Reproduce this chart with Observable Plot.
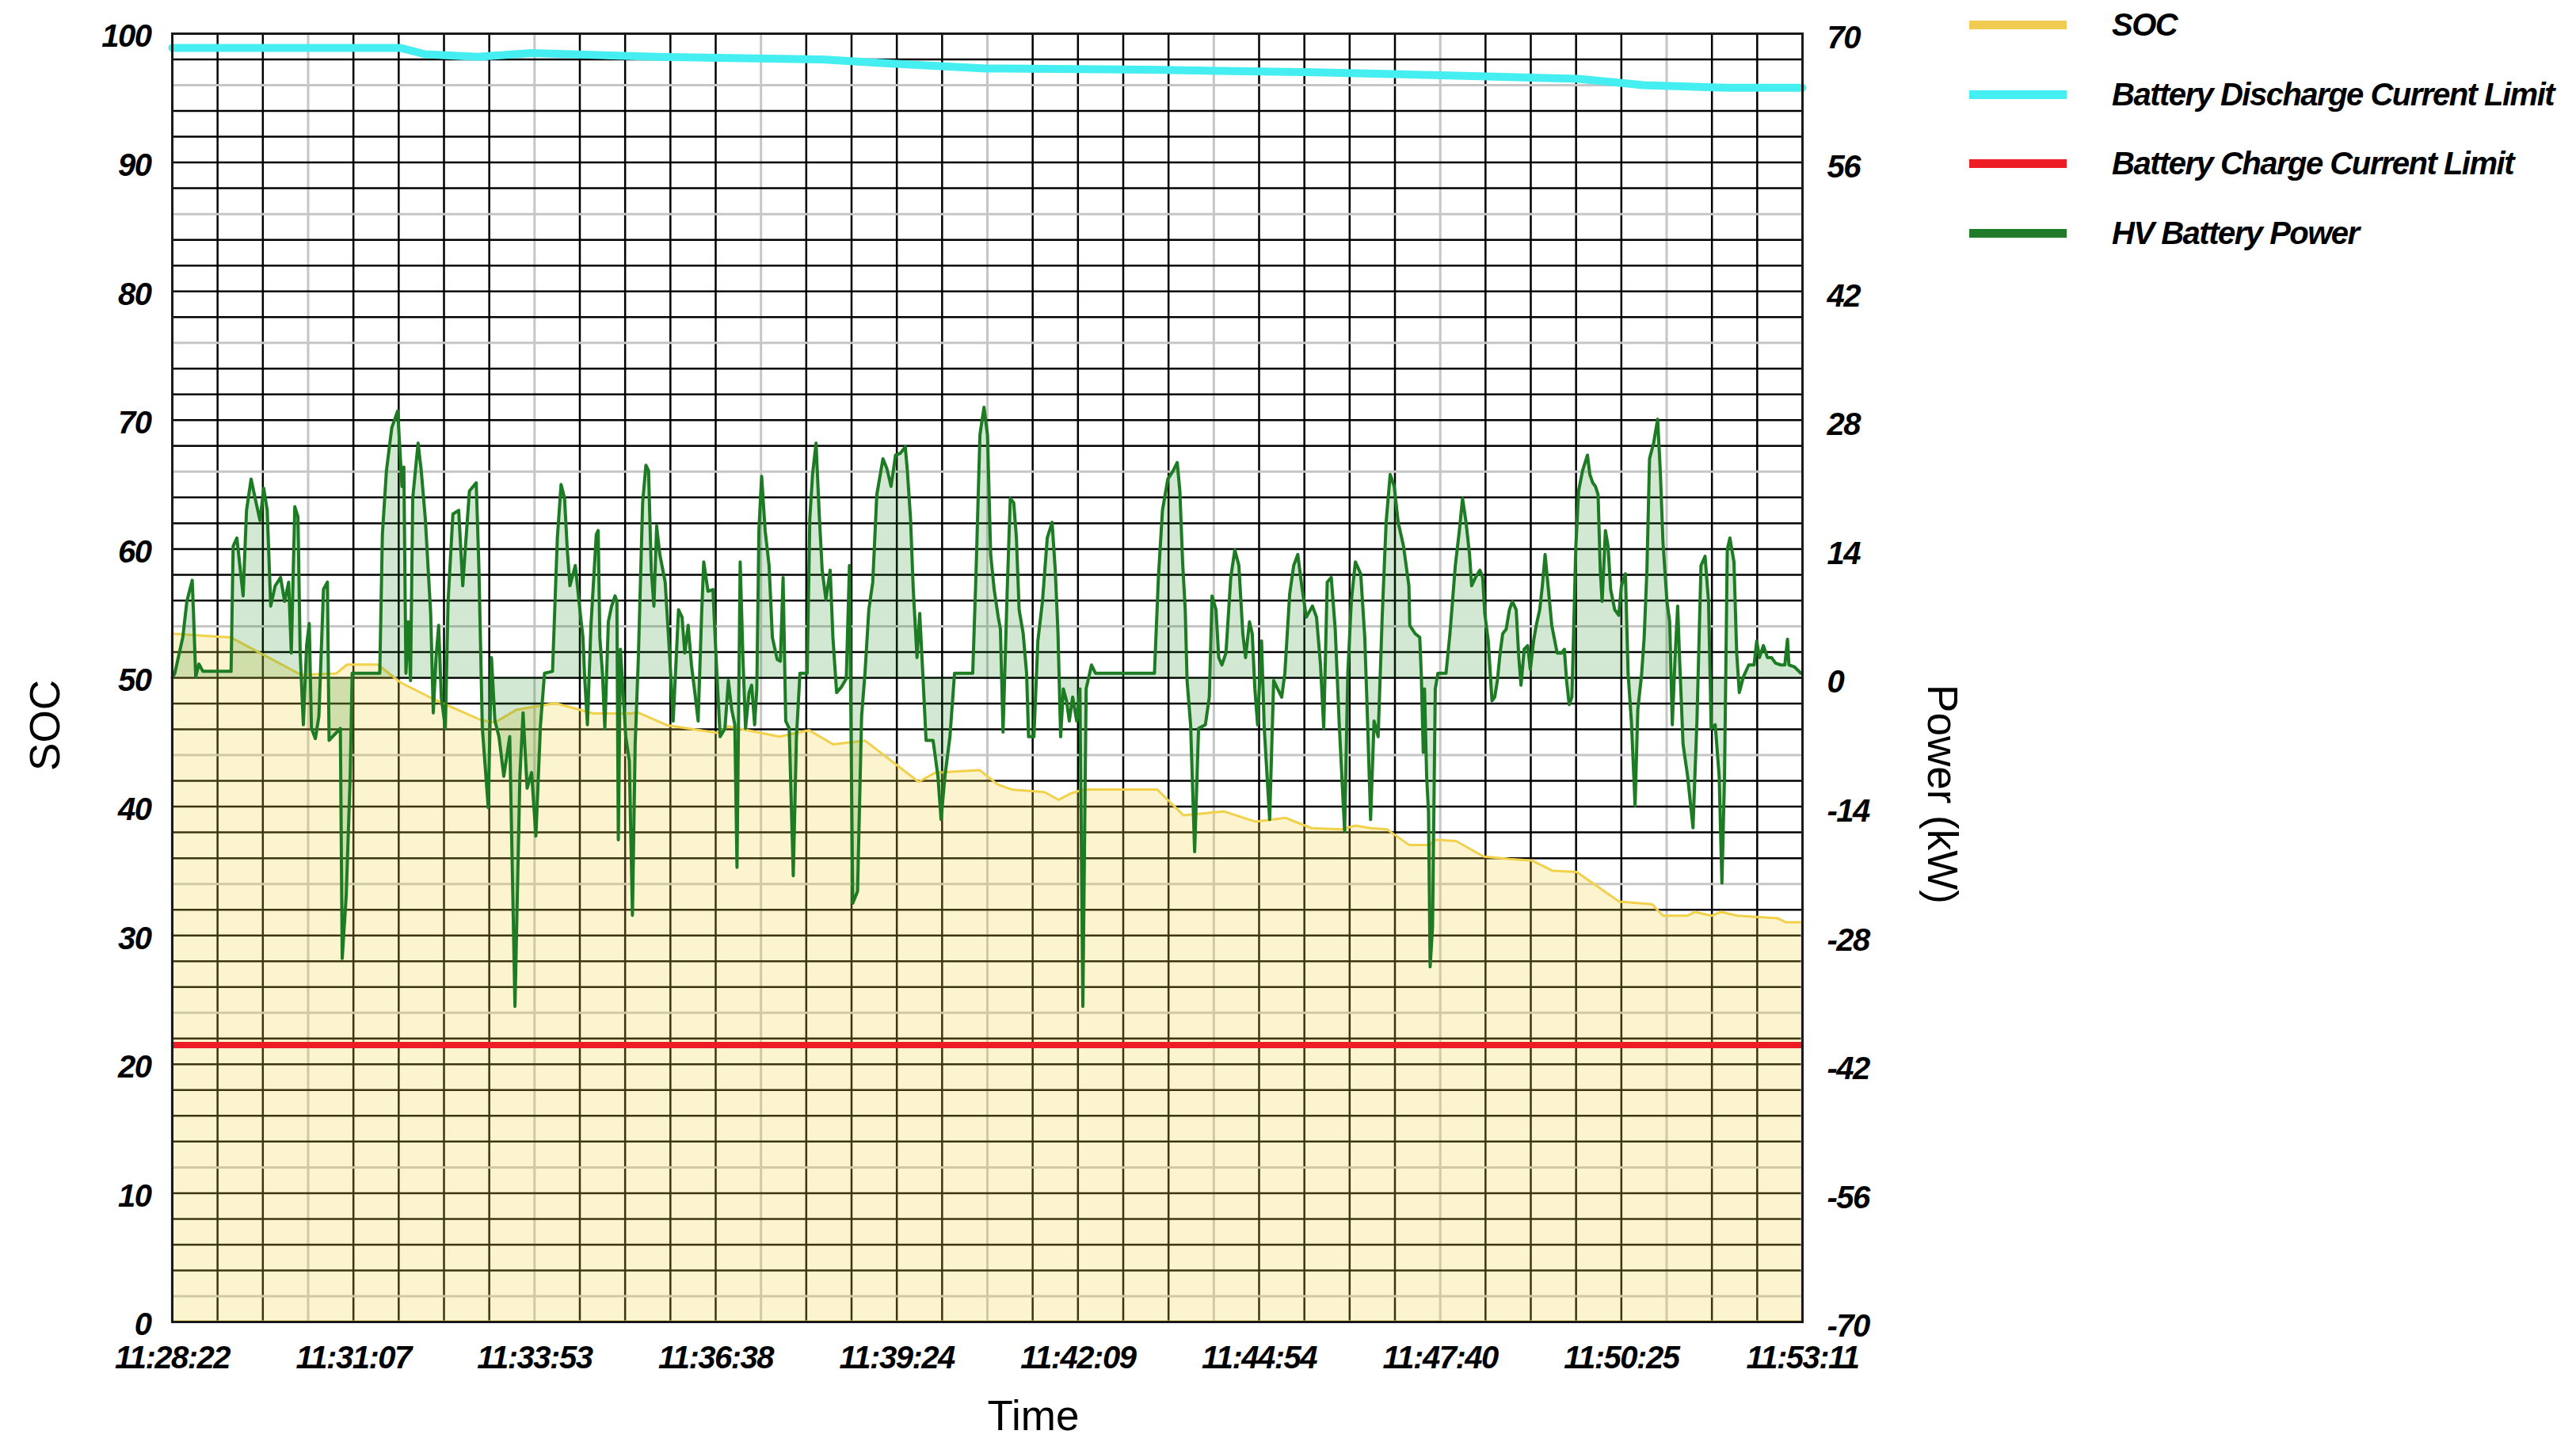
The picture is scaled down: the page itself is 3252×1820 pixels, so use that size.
<!DOCTYPE html>
<html>
<head>
<meta charset="utf-8">
<script src="https://cdn.jsdelivr.net/npm/d3@7"></script>
<script src="https://cdn.jsdelivr.net/npm/@observablehq/plot@0.6"></script>
<style>
  html, body { margin: 0; padding: 0; background: #fff; }
  #wrap { position: relative; width: 3252px; height: 1820px; overflow: hidden; }
  #wrap svg text { font-family: "Liberation Sans", Arial, sans-serif; }
  g[aria-label$="tick label"] text { letter-spacing: -1.5px; }
  .legend { position: absolute; left: 0; top: 0; font-family: "Liberation Sans", Arial, sans-serif;
            font-weight: bold; font-style: italic; font-size: 40px; letter-spacing: -1.5px; color: #000; }
  .legend .sw { position: absolute; left: 2486px; width: 123px; height: 11px; }
  .legend .lb { position: absolute; left: 2666px; white-space: nowrap; line-height: 40px; }
  .atitle { position: absolute; font-family: "Liberation Sans", Arial, sans-serif; font-size: 53px;
            color: #000; white-space: nowrap; line-height: 53px; transform-origin: center center; }
</style>
</head>
<body>
<div id="wrap"></div>
<script>
// ---------- data ----------
const timeLabels = ["11:28:22","11:31:07","11:33:53","11:36:38","11:39:24","11:42:09","11:44:54","11:47:40","11:50:25","11:53:11"];
const durationSec = 1489;                       // 11:28:22 -> 11:53:11
const socTicks = [0,10,20,30,40,50,60,70,80,90,100];
const powerTicks = [-70,-56,-42,-28,-14,0,14,28,42,56,70];
const axisTitles = {left: "SOC", right: "Power (kW)", bottom: "Time"};
const seriesNames = ["SOC","Battery Discharge Current Limit","Battery Charge Current Limit","HV Battery Power"];
const seriesColors = ["#f2cb52","#45eef0","#ee1c24","#1f7a2a"];

// SOC (%) : seconds since start
const socT   = [0,54,118,150,160,188,209,237,282,295,315,350,385,420,425,452,498,508,555,582,604,633,682,697,738,754,767,797,810,821,833,900,924,961,990,1017,1041,1068,1081,1095,1110,1130,1149,1154,1173,1198,1222,1242,1261,1283,1322,1352,1362,1384,1391,1406,1415,1430,1467,1474,1489];
const socPct = [53.4,53.1,50.2,50.3,51.0,51.0,49.6,48.4,46.7,46.5,47.5,48.0,47.2,47.2,47.3,46.3,45.7,46.2,45.4,45.9,44.8,45.1,41.9,42.6,42.8,41.7,41.3,41.1,40.5,41.0,41.3,41.3,39.3,39.6,38.8,39.1,38.3,38.2,38.5,38.3,38.2,37.0,37.0,37.4,37.3,36.1,35.9,35.8,35.0,34.9,32.6,32.4,31.5,31.5,31.8,31.5,31.8,31.5,31.3,31.0,31.0];

// Battery discharge current limit (left-axis units)
const dischargeT   = [0,208,231,279,328,443,593,654,743,894,1044,1194,1284,1344,1419,1489];
const dischargeVal = [98.9,98.9,98.4,98.2,98.5,98.2,98.0,97.7,97.3,97.2,97.0,96.7,96.5,96.0,95.8,95.8];

// Battery charge current limit (left-axis units)
const chargeLimit = [21.5];

// HV battery power (kW) : [seconds since start, kW]
const powerSamples = [
[0,0],[2.3,0.5],[9.6,4.4],[13.3,8.3],[18.2,10.6],[19.4,7.0],[21.4,0.1],[24.3,1.5],[28.0,0.7],[53.7,0.7],[55.6,14.3],[59.0,15.2],[64.7,8.9],[67.8,18.2],[72.0,21.6],[75.7,19.5],[80.1,17.1],[83.5,20.6],[86.7,18.2],[89.9,7.8],[94.0,10.0],[98.9,10.9],[102.6,8.3],[106.3,10.4],[108.7,2.7],[111.9,18.6],[114.8,17.5],[116.8,2.7],[119.7,-5.1],[122.7,3.5],[125.1,5.9],[127.1,-5.5],[130.7,-6.6],[133.9,-4.2],[138.1,9.6],[141.7,10.4],[143.2,-6.8],[150.3,-5.9],[153.5,-5.5],[155.2,-30.5],[158.9,-23.6],[162.5,-10.7],[164.3,0.5],[189.5,0.5],[191.9,15.6],[195.6,22.5],[200.5,27.2],[205.9,29.0],[209.8,20.8],[211.5,22.9],[213.4,0.5],[215.6,6.1],[217.6,-0.3],[219.6,19.5],[224.5,25.5],[227.4,22.5],[231.1,17.3],[236.0,7.0],[238.4,-3.8],[240.9,2.2],[243.3,5.7],[245.7,-2.1],[249.4,-5.5],[251.9,8.3],[256.3,17.8],[261.6,18.2],[265.3,10.0],[267.8,14.3],[271.4,20.3],[277.6,21.2],[280.0,12.2],[283.2,-5.5],[288.6,-14.1],[291.5,2.2],[294.7,-4.7],[298.4,-6.4],[302.8,-10.7],[308.2,-6.4],[313.0,-35.7],[317.5,-10.7],[320.4,-3.8],[324.1,-12.0],[328.2,-10.3],[332.1,-17.2],[336.3,-5.1],[340.0,0.5],[347.3,0.7],[351.7,15.2],[355.1,21.0],[358.3,19.5],[360.8,13.9],[363.2,10.0],[368.1,12.2],[373.0,6.6],
[375.1,4.4],[376.8,-0.3],[379.2,-5.1],[382.4,5.7],[387.3,15.6],[389.0,16.0],[390.5,4.4],[392.9,0.5],[395.1,-5.5],[398.3,6.1],[401.3,7.8],[404.4,8.9],[406.1,8.3],[407.4,-17.6],[409.3,3.1],[414.2,-6.4],[417.4,-9.0],[420.3,-25.8],[422.8,-7.2],[425.7,2.2],[429.6,19.0],[432.6,23.1],[435.0,22.5],[437.5,11.7],[439.9,7.8],[442.4,16.5],[445.3,13.4],[450.2,10.4],[454.6,1.8],[457.5,-4.7],[462.4,7.4],[465.6,6.6],[468.1,2.7],[471.2,5.7],[474.2,1.4],[477.8,-2.1],[480.3,-4.7],[483.5,7.0],[485.4,12.6],[489.3,9.4],[493.8,9.6],[497.4,0.5],[500.4,-6.4],[504.8,-5.5],[507.9,-0.3],[510.9,-3.4],[513.8,-5.1],[515.8,-20.6],[518.7,12.6],[521.2,2.2],[523.6,-5.5],[526.8,-1.6],[529.2,-0.8],[531.9,-5.1],[533.9,-1.2],[535.8,16.0],[538.3,21.9],[541.5,16.0],[545.1,12.2],[548.1,4.4],[552.5,2.0],[555.4,1.8],[557.9,10.9],[560.3,-4.7],[563.5,-5.5],[567.2,-21.5],[570.1,-6.4],[573.3,0.5],[579.9,0.5],[582.3,17.3],[584.8,22.1],[588.0,25.5],[590.9,17.8],[593.6,11.7],[597.0,8.5],[600.9,11.7],[603.4,4.4],[606.8,-1.6],[611.2,-1.0],[615.6,-0.1],[618.5,12.2],[621.5,-24.5],[625.9,-23.2],[629.6,-4.2],[632.7,0.5],[636.2,7.4],[639.8,10.4],[643.5,19.9],[649.1,23.8],[652.8,22.7],[656.5,20.8],[660.6,24.2],[665.0,24.4],[669.5,25.1],[671.4,22.5],[674.3,17.3],[676.8,9.6],[680.2,2.2],[682.7,7.0],[685.1,1.4],[688.5,-6.8],[694.9,-6.8],[699.3,-10.7],[702.2,-15.4],[705.7,-10.7],[710.3,-6.4],[714.5,0.5],[731.1,0.5],[734.0,10.9],[737.7,26.4],[741.4,29.4],[744.6,26.4],[747.5,13.4],[750.7,9.6],[754.4,6.6],
[756.4,5.3],[758.8,-5.9],[762.5,9.1],[765.4,19.5],[768.6,19.0],[771.0,15.2],[773.5,7.4],[777.2,4.8],[780.3,0.5],[782.1,-6.4],[787.0,-6.4],[790.6,4.0],[794.8,8.3],[799.2,15.2],[803.6,16.9],[806.5,11.7],[809.0,4.8],[811.4,-6.4],[813.9,-1.2],[816.8,-2.5],[819.3,-4.7],[822.4,-2.1],[826.1,-4.7],[829.0,-1.2],[831.7,-35.7],[834.7,-1.2],[839.6,1.4],[843.2,0.5],[897.1,0.5],[900.7,10.9],[904.4,18.2],[909.3,21.6],[914.2,22.5],[917.9,23.4],[920.3,20.3],[922.8,12.6],[925.2,7.4],[926.9,-0.3],[930.1,-5.1],[933.8,-18.9],[937.4,-5.5],[943.6,-5.1],[947.2,-2.1],[949.7,8.9],[953.3,7.4],[955.8,2.2],[958.7,1.4],[962.4,2.7],[966.8,10.9],[970.5,13.9],[974.2,12.2],[977.8,4.8],[980.3,2.2],[983.9,6.1],[986.4,4.8],[988.8,-1.2],[991.3,-5.1],[994.9,4.0],[997.4,-5.5],[1002.3,-15.4],[1006.0,-0.3],[1009.6,-1.2],[1013.3,-2.1],[1016.2,0.5],[1020.6,9.1],[1024.3,12.2],[1028.0,13.4],[1031.6,10.0],[1035.8,6.6],[1041.4,7.8],[1045.1,6.6],[1048.8,1.4],[1051.7,-5.5],[1054.9,10.4],[1058.6,10.9],[1062.2,5.3],[1065.9,-5.1],[1070.8,-16.7],[1073.7,0.5],[1076.9,8.3],[1080.6,12.6],[1085.5,11.3],[1089.2,4.4],[1091.6,-4.2],[1094.5,-15.4],[1097.7,-4.7],[1101.4,-6.4],[1105.1,6.6],[1108.7,16.9],[1112.4,22.1],[1116.1,20.8],[1119.7,16.9],[1124.6,14.3],[1129.5,10.0],
[1130.3,5.7],[1135.2,4.8],[1139.4,4.4],[1140.8,0.5],[1142.6,-8.1],[1143.8,-1.2],[1145.7,-10.7],[1147.4,-14.6],[1148.9,-31.4],[1151.1,-27.1],[1153.6,-1.2],[1156.0,0.5],[1163.4,0.5],[1167.0,4.8],[1171.9,12.2],[1175.6,16.0],[1178.5,19.5],[1181.7,16.9],[1184.9,13.4],[1186.8,10.0],[1190.3,10.9],[1194.4,11.7],[1196.9,10.9],[1198.8,7.0],[1202.0,4.0],[1205.4,-2.5],[1207.9,-2.1],[1210.3,-0.3],[1212.8,2.7],[1215.2,4.8],[1218.4,5.3],[1221.3,7.4],[1224.0,8.3],[1227.5,7.4],[1229.9,2.2],[1231.9,-0.8],[1234.8,3.1],[1238.0,3.5],[1240.4,0.9],[1243.4,4.0],[1245.8,5.7],[1249.0,7.4],[1251.4,10.0],[1253.9,13.4],[1256.3,10.4],[1260.0,5.7],[1264.9,2.7],[1269.1,2.7],[1271.5,3.1],[1273.5,-0.3],[1275.9,-2.9],[1278.4,-2.1],[1280.1,5.7],[1282.0,14.3],[1284.5,20.3],[1288.1,22.5],[1292.6,24.2],[1294.8,22.1],[1297.4,21.2],[1299.9,20.8],[1302.3,19.9],[1304.3,11.7],[1306.0,8.3],[1309.0,16.0],[1311.4,14.3],[1313.8,9.6],[1317.5,7.4],[1321.2,6.8],[1323.6,10.0],[1327.3,11.3],[1329.7,0.5],[1332.7,-4.7],[1336.1,-13.9],[1338.6,-3.4],[1342.0,0.3],[1344.4,4.4],[1346.9,11.7],[1349.3,23.8],[1353.0,25.5],[1356.7,28.1],[1359.1,22.5],[1361.6,14.7],[1365.2,8.3],[1367.7,6.1],[1370.1,-5.1],[1372.6,2.2],[1375.0,7.8],[1376.7,2.2],[1379.9,-7.2],[1384.1,-10.7],[1389.0,-16.3],[1392.6,-4.7],[1396.3,12.2],[1400.0,13.2],[1403.2,8.3],[1405.6,-5.5],[1409.3,-5.1],[1412.9,-10.7],[1415.4,-22.3],[1417.8,-10.7],[1420.3,13.9],[1422.7,15.2],[1426.4,12.6],[1428.9,2.7],[1431.3,-1.6],[1435.0,0.1],[1439.9,1.4],[1444.8,1.4],[1447.2,4.0],[1449.7,2.2],[1453.3,3.5],[1457.0,2.2],[1460.7,2.2],[1464.3,1.6],[1469.2,1.4],[1472.9,1.4],[1475.3,4.2],[1476.6,1.4],[1481.5,1.2],[1487.6,0.5]
];

// grid: 36 time cells, 50 SOC cells; some lines render light
const timeCells = 36;
const lightTimeCells = [3,8,13,18,23,28,33];
const lightSocLines = [2,12,24,34,44,54,66,76,86,96];

// ---------- build ----------
const toLeft = kw => (kw + 70) / 1.4;           // power (kW) -> left axis position
const socData = socT.map((t, i) => ({t, v: socPct[i]}));
const disData = dischargeT.map((t, i) => ({t, v: dischargeVal[i]}));
const powData = powerSamples.map(([t, kw]) => ({t, v: toLeft(kw)}));
const cellSec = durationSec / timeCells;
const vGrid = d3.range(1, timeCells).map(k => ({x: k * cellSec, light: lightTimeCells.includes(k)}));
const hGrid = d3.range(2, 100, 2).map(s => ({y: s, light: lightSocLines.includes(s)}));
const xTicks = timeLabels.map((_, i) => i * durationSec / (timeLabels.length - 1));
const tickFont = {fontSize: 40, fontWeight: "bold", fontStyle: "italic"};

const M = {left: 217, right: 977, top: 42, bottom: 152};
const chart = Plot.plot({
  width: 3252, height: 1820,
  marginLeft: M.left, marginRight: M.right, marginTop: M.top, marginBottom: M.bottom,
  style: {fontFamily: "Liberation Sans, Arial, sans-serif", background: "#fff", color: "#000"},
  x: {domain: [0, durationSec]},
  y: {domain: [0, 100]},
  marks: [
    Plot.ruleX(vGrid.filter(d => !d.light), {x: "x", stroke: "#000", strokeWidth: 2.5}),
    Plot.ruleX(vGrid.filter(d => d.light), {x: "x", stroke: "#c6c6c6", strokeWidth: 3}),
    Plot.ruleY(hGrid.filter(d => !d.light), {y: "y", stroke: "#000", strokeWidth: 2.5}),
    Plot.ruleY(hGrid.filter(d => d.light), {y: "y", stroke: "#c6c6c6", strokeWidth: 3}),
    Plot.areaY(socData, {x: "t", y: "v", fill: "#f5d040", fillOpacity: 0.25, stroke: "#f2d14a", strokeWidth: 3}),
    Plot.areaY(powData, {x: "t", y1: 50, y2: "v", fill: "#228b22", fillOpacity: 0.2}),
    Plot.line(powData, {x: "t", y: "v", stroke: "#1d7c23", strokeWidth: 4}),
    Plot.line(disData, {x: "t", y: "v", stroke: seriesColors[1], strokeWidth: 10}),
    Plot.ruleY(chargeLimit, {stroke: seriesColors[2], strokeWidth: 8}),
    Plot.frame({stroke: "#1a1a1a", strokeWidth: 3}),
    Plot.axisX(xTicks, {anchor: "bottom", tickSize: 0, tickPadding: 30, label: null,
      tickFormat: d => timeLabels[Math.round(d / (durationSec / (timeLabels.length - 1)))], ...tickFont}),
    Plot.axisY(socTicks, {anchor: "left", tickSize: 0, tickPadding: 27, dy: 4, label: null, ...tickFont}),
    Plot.axisY(powerTicks.map(toLeft), {anchor: "right", tickSize: 0, tickPadding: 31, dy: 6, label: null,
      tickFormat: d => String(Math.round(d * 1.4 - 70)), ...tickFont}),
    Plot.text([axisTitles.bottom], {text: d => d, frameAnchor: "bottom", lineAnchor: "middle", dx: 58, dy: 120, fontSize: 53, fill: "#000"})
  ]
});

const wrap = document.getElementById("wrap");
wrap.appendChild(chart);

// rotated axis titles (absolutely positioned, outside the SVG flow)
function addTitle(text, cx, cy, deg) {
  const el = document.createElement("div");
  el.className = "atitle";
  el.textContent = text;
  wrap.appendChild(el);
  const w = el.offsetWidth, h = el.offsetHeight;
  el.style.left = (cx - w / 2) + "px";
  el.style.top = (cy - h / 2) + "px";
  el.style.transform = `rotate(${deg}deg)`;
}
addTitle(axisTitles.left, 56, 915, -90);
addTitle(axisTitles.right, 2452, 1002, 90);

// legend (absolutely positioned, outside the SVG flow)
const legend = document.createElement("div");
legend.className = "legend";
const rowY = [31, 119, 206, 294];
seriesNames.forEach((name, i) => {
  const sw = document.createElement("div");
  sw.className = "sw";
  sw.style.top = (rowY[i] - 5.5) + "px";
  sw.style.background = seriesColors[i];
  const lb = document.createElement("div");
  lb.className = "lb";
  lb.style.top = (rowY[i] - 20) + "px";
  lb.textContent = name;
  legend.appendChild(sw);
  legend.appendChild(lb);
});
wrap.appendChild(legend);
</script>
</body>
</html>
